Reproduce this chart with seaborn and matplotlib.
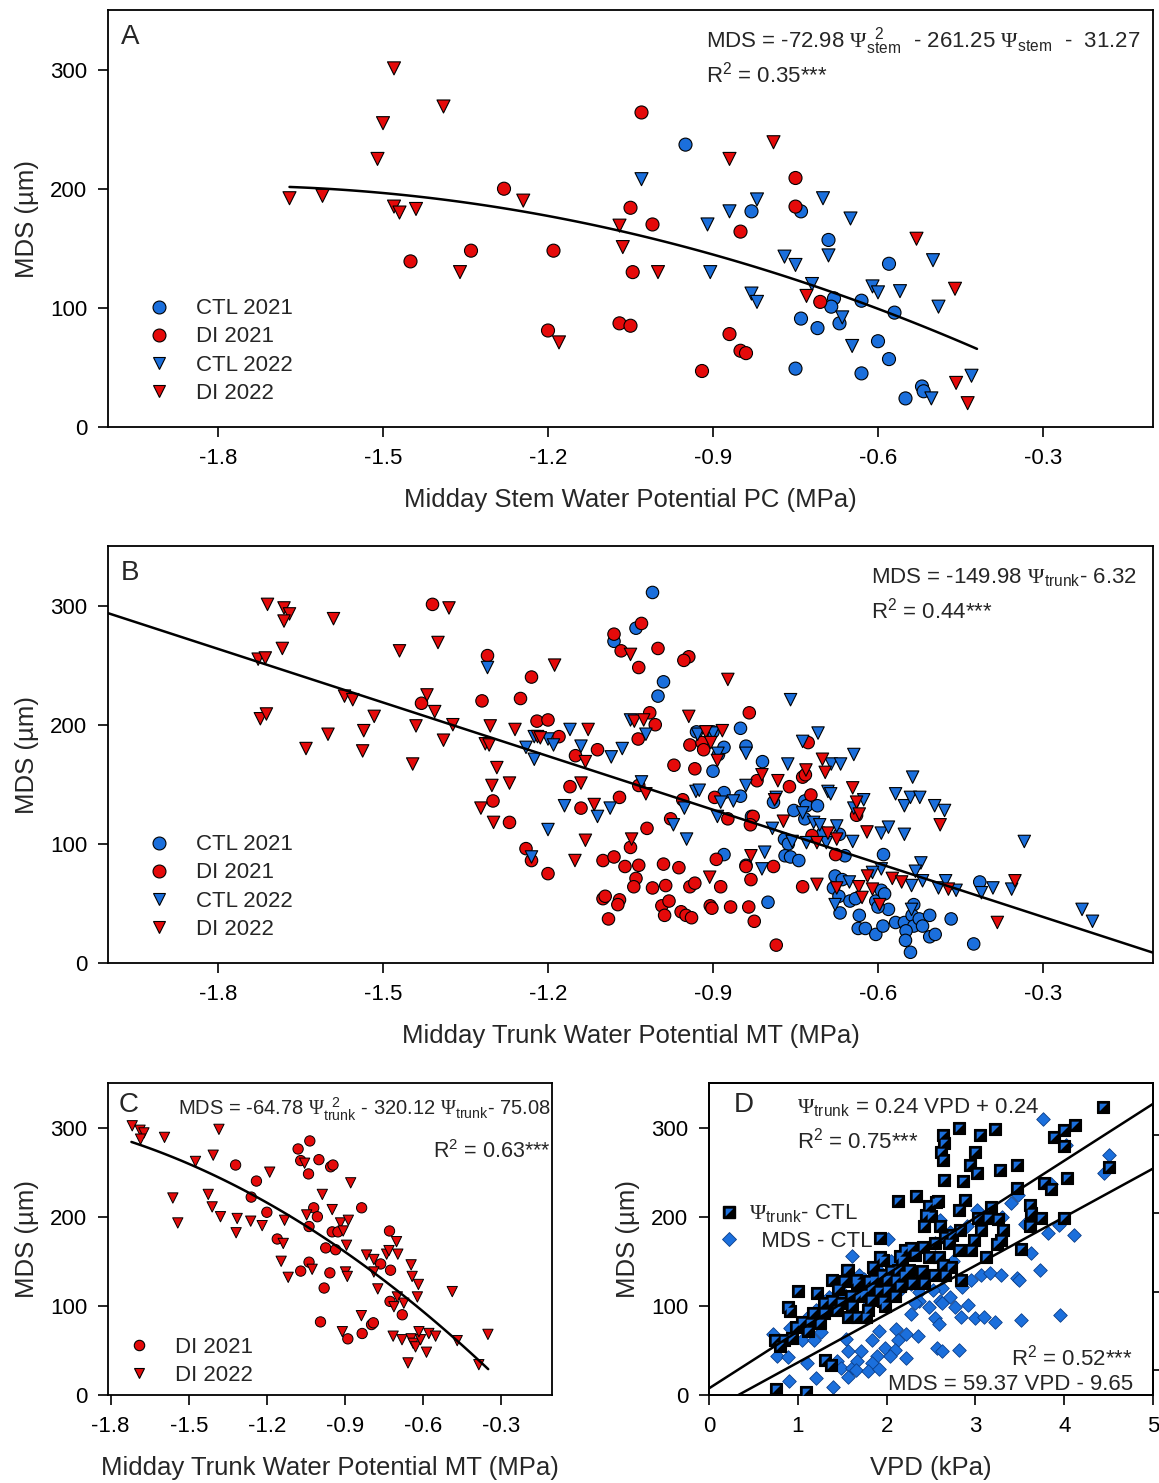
import numpy as np
import pandas as pd
import matplotlib
matplotlib.use("Agg")
import matplotlib.pyplot as plt
import seaborn as sns
from matplotlib.lines import Line2D
from matplotlib.legend_handler import HandlerTuple

# ---------------- data ----------------
# Panel A: midday stem water potential (MPa) vs MDS (um)
a_ctl21_x = [-0.95, -0.83, -0.74, -0.69, -0.58, -0.63, -0.68, -0.685, -0.74, -0.71, -0.67, -0.57, -0.60, -0.58, -0.75, -0.63, -0.55, -0.52, -0.517]
a_ctl21_y = [237, 181, 181, 157, 137, 106, 108, 101, 91, 83, 87, 96, 72, 57, 49, 45, 24, 34, 30]
a_di21_x = [-1.45, -1.34, -1.28, -1.19, -1.20, -1.07, -1.05, -1.05, -1.01, -1.046, -1.03, -0.75, -0.75, -0.85, -0.705, -0.87, -0.85, -0.84, -0.92]
a_di21_y = [139, 148, 200, 148, 81, 87, 85, 184, 170, 130, 264, 209, 185, 164, 105, 78, 64, 62, 47]
a_ctl22_x = [-1.03, -0.91, -0.87, -0.82, -0.905, -0.77, -0.75, -0.83, -0.82, -0.72, -0.70, -0.69, -0.65, -0.665, -0.647, -0.61, -0.60, -0.56, -0.50, -0.49, -0.503, -0.43]
a_ctl22_y = [208, 170, 181, 191, 130, 143, 136, 112, 105, 120, 192, 144, 175, 92, 68, 118, 113, 114, 140, 101, 24, 43]
a_di22_x = [-1.67, -1.61, -1.48, -1.39, -1.50, -1.51, -1.48, -1.47, -1.44, -1.36, -1.245, -1.18, -1.07, -1.064, -1.00, -0.79, -0.87, -0.73, -0.53, -0.46, -0.458, -0.437]
a_di22_y = [192, 194, 301, 269, 255, 225, 185, 180, 183, 130, 190, 71, 169, 151, 130, 239, 225, 110, 158, 116, 37, 20]

# Panel B: midday trunk water potential (MPa) vs MDS (um)
b_ctl21_x = [-1.01, -1.04, -1.08, -0.99, -1.00, -0.93, -0.90, -0.89, -0.88, -0.90, -0.85, -0.84, -0.81, -0.88, -0.85, -0.83, -0.79,
             -0.733, -0.73, -0.71, -0.753, -0.733, -0.77, -0.763, -0.769, -0.759, -0.744, -0.70, -0.67, -0.66, -0.59, -0.88, -0.84,
             -0.80, -0.678, -0.665, -0.681, -0.671, -0.651, -0.641, -0.669, -0.634, -0.636, -0.623, -0.604, -0.594, -0.588, -0.604,
             -0.591, -0.581, -0.60, -0.568, -0.552, -0.535, -0.538, -0.535, -0.525, -0.549, -0.55, -0.541, -0.519, -0.506, -0.506,
             -0.496, -0.467, -0.426, -0.415]
b_ctl21_y = [311, 281, 270, 236, 224, 194, 194, 175, 181, 161, 197, 182, 169, 143, 140, 123, 135, 136, 132, 132, 128, 121, 104, 100,
             90, 89, 86, 109, 108, 90, 91, 91, 82, 51, 73, 70, 63, 56, 52, 54, 42, 40, 29, 29, 52, 61, 58, 24, 31, 45, 47, 34, 34, 49,
             40, 31, 37, 27, 19, 9, 31, 22, 40, 24, 37, 16, 68]
b_di21_x = [-1.41, -1.31, -1.23, -1.32, -1.25, -1.43, -1.22, -1.20, -1.18, -1.15, -1.11, -1.16, -1.14, -1.07, -1.30, -1.27, -1.24,
            -1.23, -1.20, -1.10, -1.08, -1.06, -1.035, -1.05, -1.02, -1.04, -1.044, -1.01, -1.10, -1.096, -1.07, -1.073, -1.09,
            -1.035, -1.036, -1.015, -1.08, -1.03, -1.067, -1.035, -1.005, -1.00, -0.944, -0.953, -0.834, -0.971, -0.933, -0.942,
            -0.92, -0.917, -0.82, -0.761, -0.737, -0.732, -0.727, -0.722, -0.827, -0.832, -0.873, -0.897, -0.955, -0.977, -0.99,
            -0.962, -0.986, -0.942, -0.933, -0.886, -0.894, -0.84, -0.79, -0.831, -0.993, -0.98, -0.988, -0.958, -0.949, -0.939,
            -0.905, -0.902, -0.868, -0.835, -0.825, -0.785, -0.737, -0.677, -0.72, -0.639]
b_di21_y = [301, 258, 240, 220, 222, 218, 203, 204, 190, 174, 179, 148, 130, 139, 136, 118, 96, 86, 75, 86, 89, 81, 82, 97, 113, 71,
            64, 63, 54, 56, 53, 49, 37, 149, 188, 210, 276, 285, 262, 248, 200, 264, 257, 254, 210, 166, 163, 183, 185, 179, 153,
            148, 156, 158, 185, 141, 123, 116, 121, 139, 137, 121, 83, 80, 65, 64, 67, 64, 87, 81, 81, 70, 48, 52, 40, 43, 40, 38,
            48, 46, 47, 47, 35, 15, 64, 91, 107, 124]
b_ctl22_x = [-1.31, -1.225, -1.20, -1.19, -1.24, -1.225, -1.16, -1.14, -1.085, -1.065, -1.17, -1.11, -1.087, -1.20, -1.23, -1.03,
             -1.022, -1.05, -0.928, -0.912, -0.90, -0.891, -0.84, -0.931, -0.925, -0.952, -0.972, -0.948, -0.892, -0.886, -0.863,
             -0.84, -0.785, -0.792, -0.811, -0.806, -0.764, -0.759, -0.737, -0.709, -0.685, -0.668, -0.691, -0.686, -0.644, -0.626,
             -0.644, -0.737, -0.717, -0.706, -0.675, -0.694, -0.73, -0.756, -0.646, -0.594, -0.581, -0.568, -0.552, -0.537, -0.541,
             -0.524, -0.552, -0.497, -0.479, -0.522, -0.532, -0.539, -0.519, -0.594, -0.61, -0.652, -0.678, -0.539, -0.49, -0.477,
             -0.458, -0.412, -0.391, -0.357, -0.334, -0.229, -0.21]
b_ctl22_y = [248, 190, 188, 183, 181, 171, 196, 182, 173, 180, 132, 123, 130, 112, 89, 152, 192, 204, 192, 194, 193, 176, 176, 144,
             145, 130, 116, 104, 123, 135, 136, 149, 139, 113, 79, 93, 167, 221, 186, 193, 167, 167, 144, 142, 175, 137, 130, 126,
             118, 116, 115, 101, 101, 102, 102, 109, 114, 142, 132, 156, 139, 139, 108, 132, 128, 84, 77, 65, 69, 79, 76, 68, 49,
             45, 63, 69, 61, 59, 63, 62, 102, 45, 35]
b_di22_x = [-1.71, -1.68, -1.67, -1.68, -1.59, -1.683, -1.727, -1.714, -1.723, -1.712, -1.64, -1.60, -1.57, -1.555, -1.535,
            -1.537, -1.516, -1.47, -1.42, -1.40, -1.406, -1.44, -1.446, -1.38, -1.39, -1.373, -1.305, -1.314, -1.307, -1.293,
            -1.302, -1.27, -1.322, -1.299, -1.26, -1.219, -1.188, -1.151, -1.132, -1.14, -1.127, -1.116, -1.132, -1.05, -1.048,
            -1.043, -1.026, -1.022, -1.214, -0.873, -0.944, -0.883, -0.913, -0.904, -0.892, -0.811, -0.782, -0.788, -0.831,
            -0.906, -0.772, -0.731, -0.701, -0.696, -0.646, -0.639, -0.634, -0.62, -0.691, -0.675, -0.711, -0.487, -0.619,
            -0.635, -0.629, -0.597, -0.61, -0.574, -0.557, -0.675, -0.711, -0.472, -0.351, -0.383]
b_di22_y = [301, 298, 293, 287, 289, 264, 255, 256, 205, 209, 180, 192, 224, 221, 195, 178, 207, 262, 225, 269, 211, 199, 167, 298,
            187, 200, 199, 184, 183, 164, 149, 151, 130, 118, 196, 190, 250, 86, 169, 151, 196, 133, 103, 259, 104, 203, 204, 142,
            189, 238, 207, 195, 194, 185, 170, 158, 153, 137, 90, 72, 119, 162, 171, 160, 147, 135, 125, 110, 109, 104, 101, 116,
            73, 64, 55, 49, 62, 71, 68, 63, 66, 62, 69, 34]

# Panel C: DI only, trunk water potential vs MDS
c_di21_x = [-1.32, -1.24, -1.26, -1.20, -1.16, -1.08, -1.07, -1.035, -1.04, -1.00, -0.955, -0.946, -1.02, -1.006, -1.038, -1.038,
            -1.07, -0.958, -0.98, -0.974, -0.949, -0.936, -0.927, -0.994, -0.889, -0.834, -0.798, -0.791, -0.836, -0.729, -0.763,
            -0.725, -0.727, -0.68]
c_di21_y = [258, 240, 222, 205, 175, 276, 263, 285, 248, 264, 256, 258, 210, 200, 189, 149, 139, 137, 120, 165, 183, 163, 183, 82,
            63, 69, 79, 81, 210, 184, 147, 140, 105, 90]
c_di22_x = [-1.717, -1.687, -1.672, -1.685, -1.593, -1.384, -1.474, -1.406, -1.189, -1.561, -1.542, -1.425, -1.41, -1.378, -1.314,
            -1.318, -1.262, -1.218, -1.132, -1.137, -1.145, -1.118, -1.047, -1.055, -0.987, -0.949, -1.026, -0.878, -0.917, -0.887,
            -0.907, -0.894, -0.898, -0.891, -0.91, -0.837, -0.817, -0.789, -0.789, -0.774, -0.74, -0.731, -0.702, -0.697, -0.646,
            -0.642, -0.618, -0.622, -0.699, -0.712, -0.674, -0.715, -0.681, -0.646, -0.638, -0.629, -0.61, -0.616, -0.578, -0.552,
            -0.587, -0.658, -0.488, -0.469, -0.386, -0.351]
c_di22_y = [302, 297, 294, 287, 289, 298, 262, 269, 250, 221, 193, 225, 211, 200, 198, 182, 195, 190, 196, 170, 150, 132, 202, 260,
            225, 208, 141, 238, 193, 196, 184, 168, 138, 133, 71, 89, 157, 152, 138, 119, 158, 162, 172, 158, 146, 133, 124, 110,
            110, 99, 103, 66, 62, 63, 58, 54, 62, 71, 69, 66, 48, 36, 116, 61, 34, 68]

# Panel D: VPD (kPa) vs trunk water potential (|MPa|, right axis) and MDS (um)
d_psi_vpd = [0.75, 1.09, 0.74, 0.84, 0.80, 0.93, 0.89, 0.91, 1.00, 1.14, 1.12, 1.175, 1.22, 1.25, 1.29, 1.38, 1.38, 1.44, 1.31,
             1.37, 1.52, 1.57, 1.49, 1.61, 1.67, 1.67, 1.69, 1.57, 2.81, 3.22, 3.05, 2.64, 2.65, 2.61, 2.64, 3.00, 2.94, 3.02,
             3.28, 3.47, 2.65, 2.86, 2.13, 2.33, 2.58, 2.44, 2.50, 2.42, 2.60, 2.88, 2.81, 2.66, 2.74, 2.83, 3.03, 3.14, 3.18,
             3.47, 3.26, 3.31, 3.06, 2.98, 2.95, 3.12, 3.24, 3.29, 1.93, 2.21, 2.28, 2.41, 2.54, 2.70, 2.17, 2.32, 2.48, 2.64,
             2.72, 2.59, 2.81, 2.05, 2.11, 1.86, 1.95, 2.25, 2.40, 2.53, 2.66, 2.84, 1.82, 1.91, 2.00, 2.15, 2.29, 2.42, 1.82,
             1.96, 2.09, 1.79, 1.98, 1.77, 2.13, 1.96, 4.44, 4.12, 4.00, 3.88, 4.00, 4.50, 4.03, 3.77, 3.85, 3.61, 3.63, 3.74,
             3.61, 4.00, 3.51, 1.55, 1.66, 1.80, 1.93, 2.15, 2.48, 2.56, 1.45, 1.75, 1.85, 2.00, 2.20, 1.60, 1.30, 1.05, 0.98]
d_psi = [0.237, 0.223, 0.445, 0.445, 0.417, 0.452, 0.583, 0.565, 0.649, 0.515, 0.480, 0.557, 0.642, 0.515, 0.557, 0.698, 0.607,
         0.571, 0.361, 0.340, 0.691, 0.740, 0.600, 0.586, 0.684, 0.543, 0.628, 0.543, 1.340, 1.333, 1.308, 1.308, 1.273, 1.238,
         1.203, 1.238, 1.182, 1.147, 1.159, 1.182, 1.119, 1.116, 1.032, 1.051, 1.032, 0.971, 0.966, 0.923, 0.923, 1.035, 0.993,
         0.880, 0.887, 0.906, 0.959, 0.959, 1.007, 1.084, 0.954, 0.906, 0.906, 0.864, 0.824, 0.796, 0.850, 0.864, 0.873, 0.824,
         0.831, 0.838, 0.852, 0.852, 0.782, 0.803, 0.796, 0.761, 0.754, 0.796, 0.824, 0.733, 0.698, 0.698, 0.719, 0.740, 0.733,
         0.719, 0.719, 0.698, 0.663, 0.649, 0.656, 0.670, 0.684, 0.684, 0.614, 0.607, 0.628, 0.571, 0.586, 0.543, 0.740, 0.782,
         1.425, 1.351, 1.330, 1.299, 1.262, 1.175, 1.126, 1.105, 1.080, 1.015, 0.980, 0.958, 0.923, 0.958, 0.827, 0.738, 0.696,
         0.692, 0.795, 0.800, 1.010, 1.026, 0.660, 0.640, 0.750, 0.700, 0.720, 0.630, 0.600, 0.520, 0.500]
d_mds_vpd = [1.61, 0.72, 0.91, 0.77, 0.89, 1.05, 1.10, 0.90, 1.20, 1.40, 1.18, 1.26, 1.54, 1.56, 1.44, 1.49, 1.61, 1.71, 1.67,
             1.65, 1.57, 1.69, 1.69, 1.40, 1.12, 2.02, 2.60, 2.71, 3.02, 3.06, 3.17, 3.29, 3.47, 2.95, 2.85, 2.62, 2.52, 2.37,
             2.28, 2.15, 1.96, 1.79, 2.37, 2.60, 2.71, 2.48, 2.62, 2.77, 2.92, 2.84, 3.00, 3.10, 3.22, 2.54, 2.59, 2.28, 2.32,
             2.11, 2.22, 2.35, 2.13, 1.91, 1.83, 1.98, 2.09, 2.04, 1.89, 1.83, 1.79, 1.92, 2.22, 2.57, 2.62, 2.81, 3.76, 4.02,
             4.50, 4.45, 3.85, 3.48, 3.94, 3.82, 4.11, 3.63, 3.73, 3.49, 3.51, 3.95, 1.20, 1.35, 1.50, 1.75, 1.90, 2.05, 2.30,
             2.55, 2.90, 3.30, 3.40, 2.75, 1.60, 3.56]
d_mds = [156, 68, 75, 44, 43, 62, 36, 16, 19, 9, 62, 71, 63, 49, 38, 30, 30, 49, 38, 28, 20, 135, 120, 101, 88, 175, 196, 183, 207,
         135, 137, 135, 131, 129, 121, 120, 118, 116, 125, 118, 110, 105, 105, 106, 110, 99, 103, 99, 101, 88, 86, 88, 82, 86, 80,
         91, 103, 74, 68, 66, 62, 72, 62, 53, 51, 44, 44, 36, 27, 29, 42, 53, 49, 51, 310, 280, 269, 249, 237, 224, 191, 182,
         179, 159, 140, 129, 84, 90, 95, 110, 115, 130, 140, 150, 160, 170, 190, 200, 215, 150, 100, 192]

# regression coefficients (highest power first)
coef_a = [-72.98, -261.25, -31.27]
coef_b = [-149.98, -6.32]
coef_c = [-64.78, -320.12, -75.08]
coef_d_psi = [0.24, 0.24]
coef_d_mds = [54.4, -18.0]   # line as drawn in the figure

x_ticks_psi = [-1.8, -1.5, -1.2, -0.9, -0.6, -0.3]
y_ticks_mds = [0, 100, 200, 300]
vpd_ticks = [0, 1, 2, 3, 4, 5]
psi_right_ticks = [0.317, 0.648, 0.979, 1.309]

# ---------------- style ----------------
sns.set_theme(style="ticks")
plt.rcParams["font.family"] = ["Liberation Sans", "DejaVu Sans"]
plt.rcParams["axes.unicode_minus"] = False
plt.rcParams["mathtext.fontset"] = "custom"
plt.rcParams["mathtext.rm"] = "Liberation Sans"
plt.rcParams["mathtext.it"] = "Liberation Sans:italic"
plt.rcParams["mathtext.bf"] = "Liberation Sans:bold"
plt.rcParams["mathtext.sf"] = "Liberation Serif"

BLUE = "#1b6fdc"
RED = "#e50a0a"
W, H = 1159, 1483

fig = plt.figure(figsize=(W / 100, H / 100), dpi=100)
fig.patch.set_facecolor("white")


def axes_px(left, top, right, bottom):
    return fig.add_axes([left / W, 1 - bottom / H, (right - left) / W, (bottom - top) / H])


def style_ax(ax):
    for s in ax.spines.values():
        s.set_linewidth(1.3)
        s.set_color("black")
    ax.tick_params(direction="out", length=7, width=1.2, labelsize=16, colors="black", pad=8)


def frame(x, y, trt, yr):
    return pd.DataFrame({"x": x, "y": y, "trt": trt, "year": yr})


def four_groups(xs, ys):
    parts = [frame(xs[0], ys[0], "CTL", "2021"), frame(xs[1], ys[1], "DI", "2021"),
             frame(xs[2], ys[2], "CTL", "2022"), frame(xs[3], ys[3], "DI", "2022")]
    return pd.concat(parts, ignore_index=True)


def group_legend(ax, anchor, labels, kinds, ms, fs=16, textpad=1.3):
    handles = []
    for color, mk in kinds:
        handles.append(Line2D([], [], ls="none", marker=mk, markerfacecolor=color, markeredgecolor="black",
                              markeredgewidth=0.8, markersize=ms))
    ax.legend(handles, labels, loc="upper left", bbox_to_anchor=anchor, frameon=False, fontsize=fs,
              handletextpad=textpad, labelspacing=0.32, borderaxespad=0, handlelength=1.2)


pal = {"CTL": BLUE, "DI": RED}
mk = {"2021": "o", "2022": "v"}
legend_labels = ["CTL 2021", "DI 2021", "CTL 2022", "DI 2022"]
legend_kinds = [(BLUE, "o"), (RED, "o"), (BLUE, "v"), (RED, "v")]

# ---------------- Panel A ----------------
axA = axes_px(108, 10, 1153, 427)
dfA = four_groups([a_ctl21_x, a_di21_x, a_ctl22_x, a_di22_x], [a_ctl21_y, a_di21_y, a_ctl22_y, a_di22_y])
sns.scatterplot(data=dfA, x="x", y="y", hue="trt", style="year", palette=pal, markers=mk, s=88,
                edgecolor="black", linewidth=0.8, legend=False, ax=axA, zorder=3)
xa = np.linspace(-1.67, -0.42, 100)
axA.plot(xa, np.polyval(coef_a, xa), color="black", lw=1.8, zorder=4)
axA.set_xlim(-2.0, -0.1)
axA.set_ylim(0, 350)
axA.set_xticks(x_ticks_psi)
axA.set_yticks(y_ticks_mds)
style_ax(axA)
axA.set_xlabel("Midday Stem Water Potential PC (MPa)", fontsize=18.5, labelpad=14)
axA.set_ylabel("MDS (\u00b5m)", fontsize=18.5, labelpad=8)
group_legend(axA, (0.028, 0.33), legend_labels, legend_kinds, 9.3, textpad=1.05)
axA.text(0.012, 0.935, "A", transform=axA.transAxes, fontsize=20, va="center")
axA.text(0.572, 0.925, r"MDS = -72.98 $\mathsf{\Psi}_{\mathrm{stem}}^{\ \ 2}$  - 261.25 $\mathsf{\Psi}_{\mathrm{stem}}$  -  31.27",
         transform=axA.transAxes, fontsize=16, va="center")
axA.text(0.572, 0.845, r"R$^2$ = 0.35***", transform=axA.transAxes, fontsize=16, va="center")

# ---------------- Panel B ----------------
axB = axes_px(108, 546, 1153, 963)
dfB = four_groups([b_ctl21_x, b_di21_x, b_ctl22_x, b_di22_x], [b_ctl21_y, b_di21_y, b_ctl22_y, b_di22_y])
sns.scatterplot(data=dfB, x="x", y="y", hue="trt", style="year", palette=pal, markers=mk, s=80,
                edgecolor="black", linewidth=0.8, legend=False, ax=axB, zorder=3)
xb = np.linspace(-2.0, -0.1, 50)
axB.plot(xb, np.polyval(coef_b, xb), color="black", lw=1.8, zorder=4)
axB.set_xlim(-2.0, -0.1)
axB.set_ylim(0, 350)
axB.set_xticks(x_ticks_psi)
axB.set_yticks(y_ticks_mds)
style_ax(axB)
axB.set_xlabel("Midday Trunk Water Potential MT (MPa)", fontsize=18.5, labelpad=14)
axB.set_ylabel("MDS (\u00b5m)", fontsize=18.5, labelpad=8)
group_legend(axB, (0.028, 0.33), legend_labels, legend_kinds, 9.3, textpad=1.05)
axB.text(0.012, 0.935, "B", transform=axB.transAxes, fontsize=20, va="center")
axB.text(0.73, 0.925, r"MDS = -149.98 $\mathsf{\Psi}_{\mathrm{trunk}}$- 6.32", transform=axB.transAxes, fontsize=16, va="center")
axB.text(0.73, 0.845, r"R$^2$ = 0.44***", transform=axB.transAxes, fontsize=16, va="center")

# ---------------- Panel C ----------------
axC = axes_px(108, 1083, 552, 1395)
dfC = pd.concat([frame(c_di21_x, c_di21_y, "DI", "2021"), frame(c_di22_x, c_di22_y, "DI", "2022")], ignore_index=True)
sns.scatterplot(data=dfC, x="x", y="y", hue="trt", style="year", palette=pal, markers=mk, s=55,
                edgecolor="black", linewidth=0.7, legend=False, ax=axC, zorder=3)
xc = np.linspace(-1.72, -0.35, 100)
axC.plot(xc, np.polyval(coef_c, xc), color="black", lw=1.8, zorder=4)
axC.set_xlim(-1.81, -0.105)
axC.set_ylim(0, 350)
axC.set_xticks(x_ticks_psi)
axC.set_yticks(y_ticks_mds)
style_ax(axC)
axC.set_xlabel("Midday Trunk Water Potential MT (MPa)", fontsize=18.5, labelpad=14)
axC.set_ylabel("MDS (\u00b5m)", fontsize=18.5, labelpad=8)
group_legend(axC, (0.02, 0.215), ["DI 2021", "DI 2022"], [(RED, "o"), (RED, "v")], 7.5, textpad=1.0)
axC.text(0.025, 0.93, "C", transform=axC.transAxes, fontsize=20, va="center")
axC.text(0.998, 0.915, r"MDS = -64.78 $\mathsf{\Psi}_{\mathrm{trunk}}^{\ \ 2}$ - 320.12 $\mathsf{\Psi}_{\mathrm{trunk}}$- 75.08",
         transform=axC.transAxes, fontsize=14.5, va="center", ha="right")
axC.text(0.998, 0.78, r"R$^2$ = 0.63***", transform=axC.transAxes, fontsize=15.5, va="center", ha="right")

# ---------------- Panel D ----------------
axD = axes_px(709, 1083, 1153, 1395)
dfD = pd.DataFrame({"vpd": d_mds_vpd, "mds": d_mds})
sns.scatterplot(data=dfD, x="vpd", y="mds", marker="D", color=BLUE, s=48, edgecolor="#0b3f8a",
                linewidth=0.6, legend=False, ax=axD, zorder=3)
xd = np.linspace(0.33, 5.0, 20)
axD.plot(xd, np.polyval(coef_d_mds, xd), color="black", lw=1.8, zorder=4)
axD.set_xlim(0, 5)
axD.set_ylim(0, 350)
axD.set_xticks(vpd_ticks)
axD.set_yticks(y_ticks_mds)
style_ax(axD)
axD.set_xlabel("VPD (kPa)", fontsize=18.5, labelpad=14)
axD.set_ylabel("MDS (\u00b5m)", fontsize=18.5, labelpad=8)

axD2 = axD.twinx()
half_tri = [(-1, 1), (1, 1), (-1, -1)]
dfP = pd.DataFrame({"vpd": d_psi_vpd, "psi": d_psi})
sns.scatterplot(data=dfP, x="vpd", y="psi", marker="s", color="black", s=64, edgecolor="black",
                linewidth=0.8, legend=False, ax=axD2, zorder=3)
sns.scatterplot(data=dfP, x="vpd", y="psi", marker=half_tri, color=BLUE, s=30, linewidth=0,
                legend=False, ax=axD2, zorder=4)
xd2 = np.linspace(0, 5, 20)
axD2.plot(xd2, np.polyval(coef_d_psi, xd2), color="black", lw=1.8, zorder=5)
axD2.set_ylim(0.212, 1.528)
axD2.set_yticks(psi_right_ticks)
axD2.set_ylabel("")
style_ax(axD2)
axD2.tick_params(axis="y", labelright=False)
axD2.set_xlim(0, 5)

sq = Line2D([], [], ls="none", marker="s", markerfacecolor="black", markeredgecolor="black", markersize=8)
tri = Line2D([], [], ls="none", marker=half_tri, markerfacecolor=BLUE, markeredgewidth=0, markersize=5.5)
dia = Line2D([], [], ls="none", marker="D", markerfacecolor=BLUE, markeredgecolor="#0b3f8a",
             markeredgewidth=0.6, markersize=7)
axD2.legend([(sq, tri), dia], [r"$\mathsf{\Psi}_{\mathrm{trunk}}$- CTL", "  MDS - CTL"],
            handler_map={tuple: HandlerTuple(ndivide=1, pad=0)}, loc="upper left",
            bbox_to_anchor=(0.0, 0.645), frameon=False, fontsize=16, handletextpad=0.4,
            labelspacing=0.25, borderaxespad=0, handlelength=1.0)
axD2.text(0.055, 0.93, "D", transform=axD2.transAxes, fontsize=20, va="center")
axD2.text(0.198, 0.92, r"$\mathsf{\Psi}_{\mathrm{trunk}}$ = 0.24 VPD + 0.24", transform=axD2.transAxes,
          fontsize=16, va="center")
axD2.text(0.198, 0.815, r"R$^2$ = 0.75***", transform=axD2.transAxes, fontsize=16, va="center")
axD2.text(0.955, 0.12, r"R$^2$ = 0.52***", transform=axD2.transAxes, fontsize=16, va="center", ha="right")
axD2.text(0.955, 0.035, "MDS = 59.37 VPD - 9.65", transform=axD2.transAxes, fontsize=16, va="center", ha="right")

fig.savefig("out.png", dpi=100, facecolor="white")
